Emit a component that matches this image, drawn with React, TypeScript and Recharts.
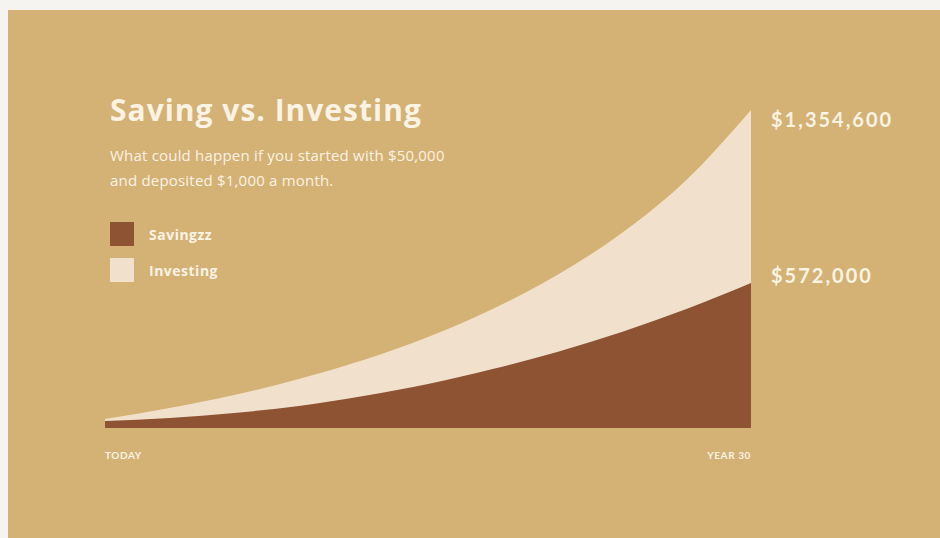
import React from "react";
import { AreaChart, Area, XAxis, YAxis, Legend } from "recharts";

// values (dollars), every 3 years
const years = [0, 3, 6, 9, 12, 15, 18, 21, 24, 27, 30];
const savingValues = [
  29800, 42600, 63900, 93700, 136300, 187400, 251300, 323800, 409000, 506900,
  617700,
];
const investingValues = [
  38300, 85200, 140600, 208700, 289700, 387700, 506900, 651800, 830700,
  1056500, 1354600,
];
const xTickValues = [0, 30];
const xTickLabels = ["TODAY", "YEAR 30"];
const endLabels = { saving: "$572,000", investing: "$1,354,600" };

const data = years.map((year, i) => ({
  year,
  saving: savingValues[i],
  investing: investingValues[i],
}));

const BG = "#D4B174";
const BROWN = "#8E5333";
const CREAM = "#F1E1CC";
const TEXT = "#FBF3E4";
const FONT = "'Open Sans', Lato, sans-serif";
const NUM_FONT = "Lato, 'Open Sans', sans-serif";

const XTick = (props: any) => {
  const { x, y, payload, index } = props;
  const last = payload.value === 30;
  return (
    <text
      x={x}
      y={y + 31}
      textAnchor={last ? "end" : "start"}
      fill={TEXT}
      fontFamily={NUM_FONT}
      fontWeight={700}
      fontSize={10}
      letterSpacing={0.6}
    >
      {xTickLabels[index]}
    </text>
  );
};

const endLabel = (text: string, dy: number) => (props: any) => {
  const { x, y, index } = props;
  if (index !== years.length - 1) return null;
  return (
    <text
      x={x + 20}
      y={y + dy}
      fill={TEXT}
      fontFamily={NUM_FONT}
      fontWeight={700}
      fontSize={20}
      letterSpacing={2}
    >
      {text}
    </text>
  );
};

const renderLegend = (props: any) => {
  const items = [...(props.payload || [])].reverse();
  return (
    <div>
      {items.map((item: any) => (
        <div
          key={item.value}
          style={{ display: "flex", alignItems: "center", height: 24, marginBottom: 12 }}
        >
          <div style={{ width: 24, height: 24, background: item.color }} />
          <span
            style={{
              marginLeft: 15,
              color: TEXT,
              fontFamily: FONT,
              fontWeight: 700,
              fontSize: 14,
              letterSpacing: 0.5,
            }}
          >
            {item.value}
          </span>
        </div>
      ))}
    </div>
  );
};

export default function App() {
  return (
    <div
      style={{
        position: "absolute",
        left: 0,
        top: 0,
        width: 940,
        height: 538,
        background: "#F6F4F1",
        overflow: "hidden",
      }}
    >
      <div
        style={{
          position: "absolute",
          left: 8,
          top: 10,
          width: 932,
          height: 528,
          background: BG,
        }}
      />
      <div style={{ position: "absolute", left: 0, top: 0 }}>
        <AreaChart
          width={940}
          height={538}
          data={data}
          margin={{ top: 110, right: 189, left: 105, bottom: 80 }}
        >
          <XAxis
            dataKey="year"
            type="number"
            domain={[0, 30]}
            ticks={xTickValues}
            axisLine={false}
            tickLine={false}
            tickSize={0}
            tickMargin={0}
            height={30}
            tick={<XTick />}
            interval={0}
          />
          <YAxis hide domain={[0, 1354600]} />
          <Legend
            layout="horizontal"
            align="center"
            verticalAlign="middle"
            content={renderLegend}
            wrapperStyle={{ left: 110, top: 222, width: 200, height: 70 }}
          />
          <Area
            type="monotone"
            dataKey="investing"
            name="Investing"
            fill={CREAM}
            fillOpacity={1}
            stroke="none"
            isAnimationActive={false}
            label={endLabel(endLabels.investing, 17)}
          />
          <Area
            type="monotone"
            dataKey="saving"
            name="Savingzz"
            fill={BROWN}
            fillOpacity={1}
            stroke="none"
            isAnimationActive={false}
            label={endLabel(endLabels.saving, 0)}
          />
        </AreaChart>
      </div>
      <div
        style={{
          position: "absolute",
          left: 110,
          top: 95,
          color: TEXT,
          fontFamily: FONT,
          fontWeight: 700,
          fontSize: 30,
          lineHeight: "30px",
          letterSpacing: 1,
          whiteSpace: "nowrap",
        }}
      >
        Saving vs. Investing
      </div>
      <div
        style={{
          position: "absolute",
          left: 110,
          top: 143,
          color: TEXT,
          fontFamily: FONT,
          fontSize: 15,
          lineHeight: "25px",
          letterSpacing: 0.2,
          whiteSpace: "nowrap",
        }}
      >
        What could happen if you started with $50,000
        <br />
        and deposited $1,000 a month.
      </div>
    </div>
  );
}
